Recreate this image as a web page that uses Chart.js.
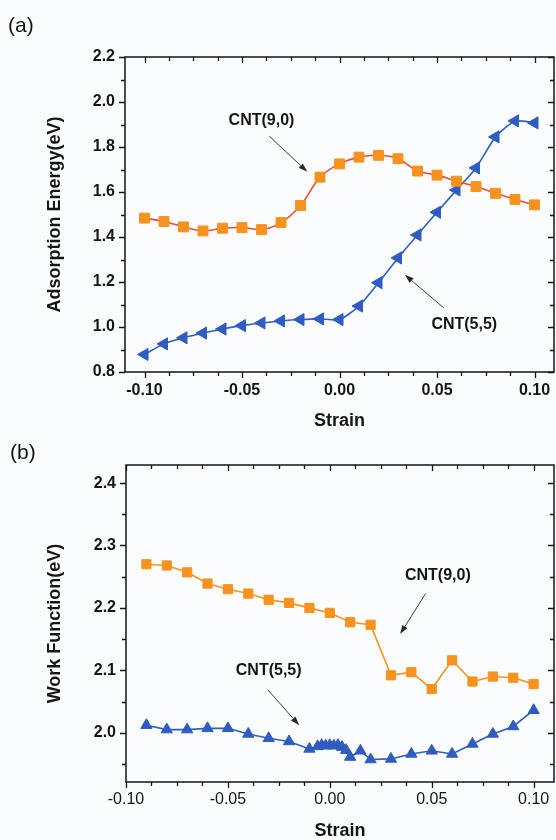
<!DOCTYPE html>
<html>
<head>
<meta charset="utf-8">
<script src="https://cdn.jsdelivr.net/npm/chart.js@4.4.1/dist/chart.umd.min.js"></script>
<style>
  body { margin: 0; background: #fbfcfe; }
  #wrap { position: relative; width: 556px; height: 840px; }
  canvas { position: absolute; left: 0; }
</style>
</head>
<body>
<div id="wrap">
  <canvas id="chartA" width="556" height="440" style="top:0"></canvas>
  <canvas id="chartB" width="556" height="400" style="top:440px"></canvas>
</div>
<script>
// panel (a): adsorption energy vs strain
const strainA = [-0.10, -0.09, -0.08, -0.07, -0.06, -0.05, -0.04, -0.03, -0.02, -0.01, 0.00,
  0.01, 0.02, 0.03, 0.04, 0.05, 0.06, 0.07, 0.08, 0.09, 0.10];
const adsCnt90 = [1.484, 1.469, 1.445, 1.427, 1.439, 1.442, 1.433, 1.464, 1.540, 1.666, 1.725,
  1.755, 1.763, 1.748, 1.693, 1.675, 1.648, 1.624, 1.594, 1.567, 1.543];
const adsCnt55 = [0.878, 0.925, 0.952, 0.973, 0.991, 1.006, 1.018, 1.027, 1.033, 1.036, 1.033,
  1.093, 1.197, 1.307, 1.409, 1.510, 1.609, 1.707, 1.845, 1.916, 1.907];
const xTicksA = [-0.10, -0.05, 0.00, 0.05, 0.10];
const yTicksA = [0.8, 1.0, 1.2, 1.4, 1.6, 1.8, 2.0, 2.2];

// panel (b): work function vs strain
const strainB90 = [-0.09, -0.08, -0.07, -0.06, -0.05, -0.04, -0.03, -0.02, -0.01, 0.00,
  0.01, 0.02, 0.03, 0.04, 0.05, 0.06, 0.07, 0.08, 0.09, 0.10];
const wfCnt90 = [2.270, 2.268, 2.257, 2.239, 2.230, 2.223, 2.213, 2.208, 2.200, 2.192,
  2.177, 2.173, 2.092, 2.097, 2.070, 2.116, 2.082, 2.090, 2.088, 2.078];
const strainB55 = [-0.09, -0.08, -0.07, -0.06, -0.05, -0.04, -0.03, -0.02, -0.01,
  -0.006, -0.004, -0.002, 0.000, 0.002, 0.004, 0.006, 0.008,
  0.01, 0.015, 0.02, 0.03, 0.04, 0.05, 0.06, 0.07, 0.08, 0.09, 0.10];
const wfCnt55 = [2.012, 2.005, 2.005, 2.007, 2.007, 1.998, 1.991, 1.986, 1.974,
  1.978, 1.980, 1.979, 1.980, 1.979, 1.980, 1.977, 1.972,
  1.961, 1.971, 1.957, 1.958, 1.966, 1.971, 1.966, 1.982, 1.998, 2.010, 2.036];
const xTicksB = [-0.10, -0.05, 0.00, 0.05, 0.10];
const yTicksB = [2.0, 2.1, 2.2, 2.3, 2.4];

const FONT = '"Liberation Sans", Arial, sans-serif';
const INK = '#151515';

const toPoints = (xs, ys) => xs.map((x, i) => ({ x: x, y: ys[i] }));

// box frame with Origin-style ticks: outward on bottom/left, inward on top/right
const framePlugin = {
  id: 'frame',
  afterDraw(chart, args, o) {
    const { ctx, chartArea: a, scales: { x, y } } = chart;
    ctx.save();
    ctx.strokeStyle = INK;
    ctx.lineWidth = 1.5;
    ctx.strokeRect(a.left, a.top, a.right - a.left, a.bottom - a.top);
    ctx.lineWidth = 1.3;
    ctx.beginPath();
    for (let i = 0; i <= o.xN; i++) {
      const px = Math.round(x.getPixelForValue(o.xFrom + i * o.xStep)) + 0.5;
      const len = (i % o.xEvery === 0) ? 6 : 4;
      ctx.moveTo(px, a.bottom); ctx.lineTo(px, a.bottom + len);
      ctx.moveTo(px, a.top); ctx.lineTo(px, a.top + len);
    }
    for (let i = 0; i <= o.yN; i++) {
      const py = Math.round(y.getPixelForValue(o.yFrom + i * o.yStep)) + 0.5;
      const len = ((i + o.yShift) % o.yEvery === 0) ? 6 : 4;
      ctx.moveTo(a.left, py); ctx.lineTo(a.left - len, py);
      ctx.moveTo(a.right, py); ctx.lineTo(a.right - len, py);
    }
    ctx.stroke();
    ctx.restore();
  }
};

// curve labels with arrows, placed in data coordinates
const notesPlugin = {
  id: 'notes',
  afterDraw(chart, args, o) {
    const { ctx, scales: { x, y } } = chart;
    ctx.save();
    ctx.fillStyle = INK;
    ctx.font = '21px ' + FONT;
    ctx.textBaseline = 'middle';
    ctx.textAlign = 'left';
    ctx.fillText(o.panel.text, o.panel.px, o.panel.py);

    ctx.font = 'bold 16px ' + FONT;
    ctx.textAlign = 'center';
    o.labels.forEach(l => ctx.fillText(l.text, x.getPixelForValue(l.x), y.getPixelForValue(l.y)));

    ctx.strokeStyle = '#3a3a3a';
    ctx.fillStyle = '#2a2a2a';
    ctx.lineWidth = 1;
    o.arrows.forEach(ar => {
      const x1 = x.getPixelForValue(ar.x1), y1 = y.getPixelForValue(ar.y1);
      const x2 = x.getPixelForValue(ar.x2), y2 = y.getPixelForValue(ar.y2);
      const ang = Math.atan2(y2 - y1, x2 - x1);
      const hl = 9, hw = 3;
      ctx.beginPath();
      ctx.moveTo(x1, y1);
      ctx.lineTo(x2 - hl * Math.cos(ang), y2 - hl * Math.sin(ang));
      ctx.stroke();
      ctx.beginPath();
      ctx.moveTo(x2, y2);
      ctx.lineTo(x2 - hl * Math.cos(ang) + hw * Math.sin(ang), y2 - hl * Math.sin(ang) - hw * Math.cos(ang));
      ctx.lineTo(x2 - hl * Math.cos(ang) - hw * Math.sin(ang), y2 - hl * Math.sin(ang) + hw * Math.cos(ang));
      ctx.closePath();
      ctx.fill();
    });
    ctx.restore();
  }
};

function axes(p) {
  return {
    x: {
      type: 'linear',
      min: p.xMin, max: p.xMax,
      grid: { display: false, drawTicks: false },
      border: { display: false },
      afterBuildTicks: s => { s.ticks = p.xTicks.map(v => ({ value: v })); },
      afterFit: s => { s.height = p.xHeight; s.paddingLeft = 0; s.paddingRight = 0; },
      ticks: {
        padding: p.xPad,
        color: INK,
        maxRotation: 0,
        font: { family: FONT, size: p.xTickSize, weight: p.xTickWeight },
        callback: v => Number(v).toFixed(2)
      },
      title: {
        display: true, text: 'Strain', color: INK,
        font: { family: FONT, size: 18, weight: 'bold', lineHeight: 1 },
        padding: { top: 0, bottom: p.xTitlePad }
      }
    },
    y: {
      type: 'linear',
      min: p.yMin, max: p.yMax,
      grid: { display: false, drawTicks: false },
      border: { display: false },
      afterBuildTicks: s => { s.ticks = p.yTicks.map(v => ({ value: v })); },
      afterFit: s => { s.width = p.yWidth; s.paddingTop = 0; s.paddingBottom = 0; },
      ticks: {
        padding: 10,
        color: INK,
        font: { family: FONT, size: 16, weight: 'bold' },
        callback: v => Number(v).toFixed(1)
      },
      title: {
        display: true, text: p.yTitle, color: INK,
        font: { family: FONT, size: 18, weight: 'bold', lineHeight: 1 },
        padding: { top: 46, bottom: 0 }
      }
    }
  };
}

const baseOptions = {
  responsive: false,
  animation: false,
  events: [],
  plugins: { legend: { display: false }, tooltip: { enabled: false } }
};

new Chart(document.getElementById('chartA'), {
  type: 'line',
  data: {
    datasets: [
      {
        label: 'CNT(9,0)',
        data: toPoints(strainA, adsCnt90),
        borderColor: '#f04b36',
        borderWidth: 1.6,
        tension: 0.3,
        pointStyle: 'rect',
        pointRadius: 7,
        pointBackgroundColor: '#f7921e',
        pointBorderColor: '#f7921e',
        pointBorderWidth: 1
      },
      {
        label: 'CNT(5,5)',
        data: toPoints(strainA, adsCnt55),
        borderColor: '#2f5fc0',
        borderWidth: 1.6,
        tension: 0.2,
        pointStyle: 'triangle',
        rotation: -90,
        pointRadius: 7,
        pointBackgroundColor: '#2f5cc0',
        pointBorderColor: '#2f5cc0',
        pointBorderWidth: 1
      }
    ]
  },
  options: Object.assign({}, baseOptions, {
    layout: { autoPadding: false, padding: { top: 57, right: 2, left: 0, bottom: 0 } },
    scales: axes({
      xMin: -0.11, xMax: 0.11, xTicks: xTicksA, xHeight: 68, xPad: 9,
      xTickSize: 16, xTickWeight: 'bold', xTitlePad: 10,
      yMin: 0.8, yMax: 2.2, yTicks: yTicksA, yWidth: 125,
      yTitle: 'Adsorption Energy(eV)'
    }),
    plugins: Object.assign({}, baseOptions.plugins, {
      frame: { xFrom: -0.10, xStep: 0.0125, xN: 16, xEvery: 4,
               yFrom: 0.8, yStep: 0.1, yN: 14, yEvery: 2, yShift: 0 },
      notes: {
        panel: { text: '(a)', px: 8, py: 26 },
        labels: [
          { text: 'CNT(9,0)', x: -0.040, y: 1.919 },
          { text: 'CNT(5,5)', x: 0.064, y: 1.009 }
        ],
        arrows: [
          { x1: -0.036, y1: 1.848, x2: -0.0165, y2: 1.690 },
          { x1: 0.0535, y1: 1.085, x2: 0.0335, y2: 1.232 }
        ]
      }
    })
  }),
  plugins: [framePlugin, notesPlugin]
});

new Chart(document.getElementById('chartB'), {
  type: 'line',
  data: {
    datasets: [
      {
        label: 'CNT(9,0)',
        data: toPoints(strainB90, wfCnt90),
        borderColor: '#f7931e',
        borderWidth: 1.6,
        tension: 0,
        pointStyle: 'rect',
        pointRadius: 6.5,
        pointBackgroundColor: '#f7921e',
        pointBorderColor: '#f7921e',
        pointBorderWidth: 1
      },
      {
        label: 'CNT(5,5)',
        data: toPoints(strainB55, wfCnt55),
        borderColor: '#2f5fc0',
        borderWidth: 1.6,
        tension: 0,
        pointStyle: 'triangle',
        pointRadius: 6.5,
        pointBackgroundColor: '#2f5cc0',
        pointBorderColor: '#2f5cc0',
        pointBorderWidth: 1
      }
    ]
  },
  options: Object.assign({}, baseOptions, {
    layout: { autoPadding: false, padding: { top: 25, right: 2, left: 0, bottom: 0 } },
    scales: axes({
      xMin: -0.10, xMax: 0.11, xTicks: xTicksB, xHeight: 58, xPad: 8,
      xTickSize: 16, xTickWeight: 'normal', xTitlePad: 0,
      yMin: 1.921, yMax: 2.429, yTicks: yTicksB, yWidth: 126,
      yTitle: 'Work Function(eV)'
    }),
    plugins: Object.assign({}, baseOptions.plugins, {
      frame: { xFrom: -0.10, xStep: 0.0125, xN: 16, xEvery: 4,
               yFrom: 1.95, yStep: 0.05, yN: 9, yEvery: 2, yShift: 1 },
      notes: {
        panel: { text: '(b)', px: 10, py: 13 },
        labels: [
          { text: 'CNT(9,0)', x: 0.053, y: 2.252 },
          { text: 'CNT(5,5)', x: -0.030, y: 2.0995 }
        ],
        arrows: [
          { x1: 0.047, y1: 2.223, x2: 0.0345, y2: 2.158 },
          { x1: -0.0305, y1: 2.069, x2: -0.015, y2: 2.012 }
        ]
      }
    })
  }),
  plugins: [framePlugin, notesPlugin]
});
</script>
</body>
</html>
